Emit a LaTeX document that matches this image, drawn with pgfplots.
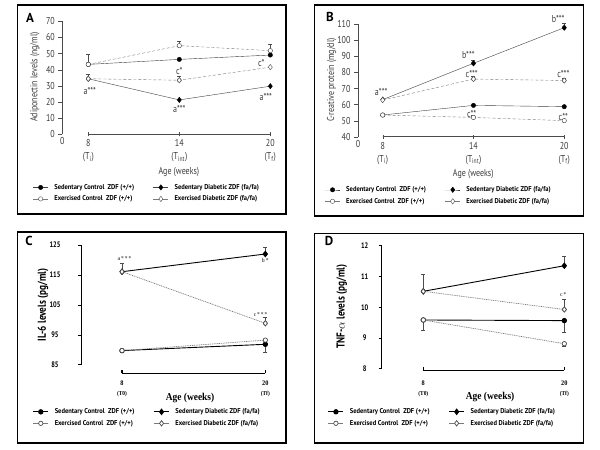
\documentclass[border=0pt]{standalone}
\usepackage{pgfplots}
\pgfplotsset{compat=1.18}
\usepackage{fontspec}
\setmainfont{PT Sans}
\newfontfamily\cond[FakeStretch=0.8]{PT Sans}
\newfontfamily\legf[FakeStretch=0.93]{PT Sans}
\newfontfamily\serb[FakeStretch=0.9]{Liberation Serif}

\definecolor{txt}{HTML}{3C3C3C}
\definecolor{lgray}{HTML}{7A7A7A}

\pgfplotsset{
  sc/.style={draw=black!75, solid, mark=*, mark size=2.2pt, mark options={solid, fill=black, draw=black}},
  sd/.style={draw=black!75, solid, mark=diamond*, mark size=2.7pt, mark options={solid, fill=black, draw=black}},
  ec/.style={draw=lgray, dash pattern=on 3pt off 2pt, mark=*, mark size=2.2pt, mark options={solid, fill=white, draw=black!70}},
  ed/.style={draw=lgray, dash pattern=on 3pt off 2pt, mark=diamond*, mark size=2.7pt, mark options={solid, fill=white, draw=black!70}},
  errb/.style={black!70, forget plot, only marks, mark=none,
    error bars/y explicit, error bars/error bar style={black!70, solid, line width=0.5pt}},
  % common layout of all four panels
  panel/.style={
    scale only axis, clip=false,
    axis y line*=left, axis x line*=bottom,
    x axis line style={draw=none},
    ytick align=outside,
    /pgf/number format/assume math mode=true,
    legend columns=2,
    legend cell align=left,
    legend image code/.code={\draw[mark repeat=2, mark phase=2, ##1, solid]
      plot coordinates {(0pt,0pt) (7.5pt,0pt) (15pt,0pt)};},
    legend style={draw=none, fill=none, inner sep=0pt, anchor=north west,
      font=\legf\bfseries\fontsize{7}{8}\selectfont, text=black,
      row sep=1pt,
      /tikz/every even column/.append style={column sep=17pt},
      /tikz/every odd column/.append style={column sep=4pt}},
  },
  % panels A and B
  panelab/.style={panel,
    y axis line style={black!70},
    xtick align=center, major tick length=4pt,
    tick style={black!70},
    tick label style={font=\cond\fontsize{10}{11}\selectfont, text=txt},
    x tick label style={align=center},
    extra x tick style={major tick length=0pt},
    label style={font=\cond\fontsize{10}{11}\selectfont, text=txt},
  },
  % panels C and D
  panelcd/.style={panel,
    y axis line style={black, line width=1pt},
    y tick style={black, line width=1pt}, major tick length=3pt,
    x tick style={draw=none},
    y tick label style={font=\cond\bfseries\fontsize{8}{9}\selectfont, anchor=center},
    x tick label style={align=center, font=\serb\bfseries\fontsize{7}{10}\selectfont},
    ylabel style={font=\cond\bfseries\fontsize{11.5}{12}\selectfont},
    xlabel style={font=\serb\bfseries\fontsize{10.5}{12}\selectfont},
  },
}

\begin{document}
\begin{tikzpicture}
\useasboundingbox (0pt,0pt) rectangle (600pt,450pt);
\fill[white] (0pt,0pt) rectangle (600pt,450pt);

% frames and panel letters
\draw[line width=1.3pt] (17.5pt,445pt) rectangle (286pt,236pt);
\draw[line width=1.3pt] (314.3pt,445pt) rectangle (583.3pt,234pt);
\draw[line width=1.3pt] (17.5pt,218pt) rectangle (286pt,7pt);
\draw[line width=1.3pt] (314.3pt,216.7pt) rectangle (583.3pt,7pt);
\node[font=\bfseries\fontsize{13}{13}\selectfont] at (30pt,432pt) {A};
\node[font=\bfseries\fontsize{13}{13}\selectfont] at (330pt,433pt) {B};
\node[font=\bfseries\fontsize{13}{13}\selectfont] at (29pt,209pt) {C};
\node[font=\bfseries\fontsize{13}{13}\selectfont] at (329pt,209pt) {D};

% ---------------- A: adiponectin
\begin{axis}[panelab,
  at={(62.3pt,315.7pt)}, anchor=south west,
  width=215.6pt, height=113pt,
  xmin=6.286, xmax=20.5, ymin=0, ymax=70,
  ytick={0,10,...,70},
  xtick={8,14,20},
  xticklabels={{8\\[2pt](T\textsubscript{i})},{14\\[2pt](T\textsubscript{int})},{20\\[2pt](T\textsubscript{f})}},
  extra x ticks={6.286}, extra x tick labels={0},
  xlabel={Age (weeks)}, ylabel={Adiponectin levels (ng/ml)},
  xlabel style={at={(axis description cs:0.541,-0.334)}, anchor=center},
  ylabel style={at={(axis description cs:-0.127,0.507)}, anchor=center},
  legend style={at={(axis description cs:-0.137,-0.422)}},
]
\draw[black!70] (axis cs:8,0) -- (axis cs:20,0);
\addplot[errb, error bars/y dir=plus] coordinates {
  (8,43.3) +- (0,6.4) (14,54.9) +- (0,2.7) (20,51.8) +- (0,4.3)
  (8,34.4) +- (0,2.9) (14,33.5) +- (0,2.5)};
\addplot[sc] coordinates {(8,43.3) (14,46.4) (20,49.1)};
\addlegendentry{Sedentary Control\ \ ZDF (+/+)}
\addplot[sd] coordinates {(8,34.4) (14,21.3) (20,29.8)};
\addlegendentry{Sedentary Diabetic ZDF (fa/fa)}
\addplot[ec] coordinates {(8,43.3) (14,54.9) (20,51.8)};
\addlegendentry{Exercised Control\ \ ZDF (+/+)}
\addplot[ed] coordinates {(8,34.4) (14,33.5) (20,41.6)};
\addlegendentry{Exercised Diabetic ZDF (fa/fa)}
\begin{scope}[font=\cond\fontsize{10}{11}\selectfont, text=txt]
\node at (axis cs:8.1,26.9) {a***};
\node at (axis cs:14,15.5) {a***};
\node at (axis cs:19.7,23.2) {a***};
\node at (axis cs:14,39.3) {c*};
\node at (axis cs:19.4,43.9) {c*};
\end{scope}
\end{axis}

% ---------------- B: C-reactive protein
\begin{axis}[panelab,
  at={(358pt,313.3pt)}, anchor=south west,
  width=213.8pt, height=112.4pt,
  xmin=6.367, xmax=20.5, ymin=40, ymax=110,
  ytick={40,50,...,110},
  xtick={8,14,20},
  xticklabels={{8\\[2pt](T\textsubscript{i})},{14\\[2pt](T\textsubscript{int})},{20\\[2pt](T\textsubscript{f})}},
  extra x ticks={6.367}, extra x tick labels={0},
  xlabel={Age (weeks)}, ylabel={C-reative protein (mg/dl)},
  xlabel style={at={(axis description cs:0.539,-0.332)}, anchor=center},
  ylabel style={at={(axis description cs:-0.123,0.504)}, anchor=center},
  legend style={at={(axis description cs:-0.156,-0.424)}},
]
\draw[black!70] (axis cs:8,40) -- (axis cs:20,40);
\addplot[errb, error bars/y dir=plus] coordinates {
  (14,85.7) +- (0,1.8) (20,107.9) +- (0,2.7)
  (14,75.9) +- (0,1.5) (20,75.0) +- (0,1.5)
  (14,52.0) +- (0,1.2) (20,50.0) +- (0,1.2)};
\addplot[sc] coordinates {(8,53.5) (14,59.5) (20,58.7)};
\addlegendentry{Sedentary Control\ \ ZDF (+/+)}
\addplot[sd] coordinates {(8,63.1) (14,85.7) (20,107.9)};
\addlegendentry{Sedentary Diabetic ZDF (fa/fa)}
\addplot[ec] coordinates {(8,53.5) (14,52.0) (20,50.0)};
\addlegendentry{Exercised Control\ \ ZDF (+/+)}
\addplot[ed] coordinates {(8,62.8) (14,75.9) (20,75.0)};
\addlegendentry{Exercised Diabetic ZDF (fa/fa)}
\begin{scope}[font=\cond\fontsize{10}{11}\selectfont, text=txt]
\node at (axis cs:7.9,68) {a***};
\node at (axis cs:13.66,90.9) {b***};
\node at (axis cs:19.6,113.1) {b***};
\node at (axis cs:13.88,79.1) {c***};
\node at (axis cs:19.94,79.1) {c***};
\node at (axis cs:13.88,53.9) {c**};
\node at (axis cs:19.94,52.0) {c**};
\end{scope}
\end{axis}

% ---------------- C: IL-6
\begin{axis}[panelcd,
  at={(81pt,85pt)}, anchor=south west,
  width=190.3pt, height=120pt,
  xmin=4.566, xmax=20.5, ymin=85, ymax=125,
  ytick={85,95,...,125},
  y tick label style={xshift=-23pt},
  xtick={8,20},
  xticklabels={{8\\{\fontsize{6}{7}\selectfont(T0)}},{20\\{\fontsize{6}{7}\selectfont(Tf)}}},
  x tick label style={yshift=-12pt},
  xlabel={Age (weeks)}, ylabel={IL-6 levels (pg/ml)},
  xlabel style={at={(axis description cs:0.573,-0.2725)}, anchor=center},
  ylabel style={at={(axis description cs:-0.2,0.5)}, anchor=center},
  legend style={at={(axis description cs:-0.254,-0.345)}},
]
\draw[black, line width=1.2pt] (axis cs:8,82.2) -- (axis cs:20,82.2);
\draw[black, line width=1.2pt] (axis cs:8,82.2) -- (axis cs:8,83.3);
\draw[black, line width=1.2pt] (axis cs:20,82.2) -- (axis cs:20,83.3);
\addplot[errb, error bars/y dir=plus] coordinates {
  (20,122.0) +- (0,2.4) (8,116.1) +- (0,2.8) (20,98.9) +- (0,2.1)};
\addplot[errb, error bars/y dir=minus] coordinates {
  (20,91.9) +- (0,2.5) (8,89.8) +- (0,0.7)};
\addplot[sc, draw=black, line width=0.9pt] coordinates {(8,89.8) (20,91.9)};
\addlegendentry{Sedentary Control\ \ ZDF (+/+)}
\addplot[sd, draw=black, line width=0.9pt] coordinates {(8,116.1) (20,122.0)};
\addlegendentry{Sedentary Diabetic ZDF (fa/fa)}
\addplot[ec, dash pattern=on 1pt off 0.8pt, line width=0.7pt] coordinates {(8,89.8) (20,93.3)};
\addlegendentry{Exercised Control\ \ ZDF (+/+)}
\addplot[ed, dash pattern=on 1pt off 0.8pt, line width=0.7pt] coordinates {(8,116.1) (20,98.9)};
\addlegendentry{Exercised Diabetic ZDF (fa/fa)}
\begin{scope}[font=\serb\bfseries\fontsize{6}{7}\selectfont, text=black!65]
\node at (axis cs:8.2,120.6) {a\,*\,*\,*};
\node at (axis cs:20,120) {b\,*};
\node at (axis cs:19.6,101.7) {c\,*\,*\,*};
\end{scope}
\end{axis}

% ---------------- D: TNF-alpha
\begin{axis}[panelcd,
  at={(381.7pt,81pt)}, anchor=south west,
  width=188.5pt, height=123.3pt,
  xmin=4.46, xmax=20.5, ymin=8, ymax=12,
  ytick={8,9,...,12},
  y tick label style={xshift=-14pt},
  xtick={8,20},
  xticklabels={{8\\{\fontsize{6}{7}\selectfont(T0)}},{20\\{\fontsize{6}{7}\selectfont(Tf)}}},
  x tick label style={yshift=-8pt},
  xlabel={Age (weeks)}, ylabel={TNF-$\alpha$ levels (pg/ml)},
  xlabel style={at={(axis description cs:0.575,-0.225)}, anchor=center},
  ylabel style={at={(axis description cs:-0.212,0.505)}, anchor=center},
  legend style={at={(axis description cs:-0.286,-0.303)}},
]
\draw[black, line width=1.2pt] (axis cs:8,7.96) -- (axis cs:20,7.96);
\draw[black, line width=1.2pt] (axis cs:8,7.96) -- (axis cs:8,8.06);
\draw[black, line width=1.2pt] (axis cs:20,7.96) -- (axis cs:20,8.06);
\addplot[errb, error bars/y dir=plus] coordinates {
  (20,11.35) +- (0,0.31) (8,10.52) +- (0,0.56) (20,9.93) +- (0,0.32)};
\addplot[errb, error bars/y dir=minus] coordinates {
  (8,9.59) +- (0,0.33) (20,9.57) +- (0,0.38) (20,8.82) +- (0,0.08)};
\addplot[sc, draw=black, line width=0.9pt] coordinates {(8,9.59) (20,9.57)};
\addlegendentry{Sedentary Control\ \ ZDF (+/+)}
\addplot[sd, draw=black, line width=0.9pt] coordinates {(8,10.52) (20,11.35)};
\addlegendentry{Sedentary Diabetic ZDF (fa/fa)}
\addplot[ec, dash pattern=on 1pt off 0.8pt, line width=0.7pt] coordinates {(8,9.59) (20,8.82)};
\addlegendentry{Exercised Control\ \ ZDF (+/+)}
\addplot[ed, dash pattern=on 1pt off 0.8pt, line width=0.7pt] coordinates {(8,10.52) (20,9.93)};
\addlegendentry{Exercised Diabetic ZDF (fa/fa)}
\begin{scope}[font=\serb\bfseries\fontsize{6}{7}\selectfont, text=black!65]
\node at (axis cs:19.9,10.42) {c\,*};
\end{scope}
\end{axis}
\end{tikzpicture}
\end{document}
